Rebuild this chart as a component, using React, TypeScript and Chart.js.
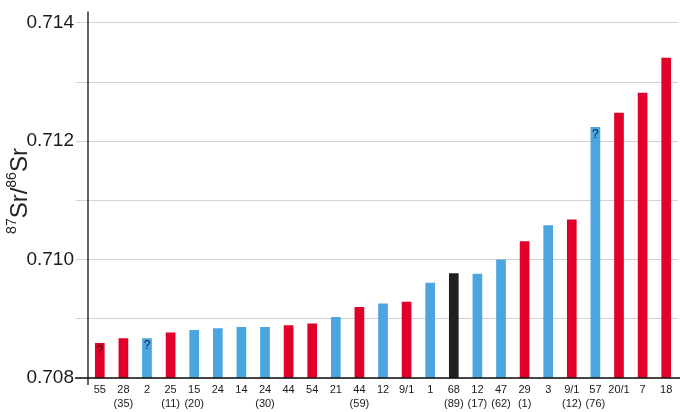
import React, { useEffect, useRef } from "react";
import { Chart, registerables } from "chart.js";

Chart.register(...registerables);

const sampleIds = ["55", "28", "2", "25", "15", "24", "14", "24", "44", "54", "21", "44", "12", "9/1", "1", "68", "12", "47", "29", "3", "9/1", "57", "20/1", "7", "18"];
const sampleSubIds = ["", "(35)", "", "(11)", "(20)", "", "", "(30)", "", "", "", "(59)", "", "", "", "(89)", "(17)", "(62)", "(1)", "", "(12)", "(76)", "", "", ""];
const srRatios = [0.70859, 0.70867, 0.70867, 0.70877, 0.70881, 0.70884, 0.70886, 0.70886, 0.70889, 0.70892, 0.70903, 0.7092, 0.70926, 0.70929, 0.70961, 0.70977, 0.70976, 0.71, 0.71031, 0.71058, 0.71068, 0.71224, 0.71248, 0.71282, 0.71341];
const groups = ["r", "r", "b", "r", "b", "b", "b", "b", "r", "r", "b", "r", "b", "r", "b", "k", "b", "b", "r", "b", "r", "b", "r", "r", "r"];
const uncertain = [0, 2, 21];
const yTicks = [0.708, 0.709, 0.71, 0.711, 0.712, 0.713, 0.714];
const yLabelled = [0.708, 0.71, 0.712, 0.714];

const groupColors: Record<string, string> = { r: "#E2002A", b: "#4BA5DE", k: "#231F20" };
const FONT = "'Liberation Sans', Arial, sans-serif";

const overlay = {
  id: "overlay",
  afterDraw(chart: any) {
    const ctx = chart.ctx;
    const { left, top, bottom } = chart.chartArea;
    ctx.save();
    // axis lines
    ctx.strokeStyle = "#111";
    ctx.lineWidth = 1.3;
    ctx.beginPath();
    ctx.moveTo(left, top - 2);
    ctx.lineTo(left, bottom + 7);
    ctx.moveTo(75, bottom);
    ctx.lineTo(680, bottom);
    ctx.stroke();

    // question marks
    const meta = chart.getDatasetMeta(0);
    ctx.font = `12px ${FONT}`;
    ctx.textAlign = "center";
    ctx.textBaseline = "top";
    uncertain.forEach((i) => {
      const bar = meta.data[i];
      ctx.fillStyle = groups[i] === "r" ? "#301018" : "#14203c";
      ctx.fillText("?", bar.x, bar.y + 1.5);
    });

    // y title with superscripts
    const parts: [string, number, number][] = [
      ["87", 14, -11],
      ["Sr/", 24, 0],
      ["86", 14, -11],
      ["Sr", 24, 0],
    ];
    let total = 0;
    parts.forEach(([t, s]) => {
      ctx.font = `${s}px ${FONT}`;
      total += ctx.measureText(t).width;
    });
    ctx.translate(27, 191);
    ctx.rotate(-Math.PI / 2);
    ctx.fillStyle = "#222";
    ctx.textAlign = "left";
    ctx.textBaseline = "alphabetic";
    let x = -total / 2;
    parts.forEach(([t, s, dy]) => {
      ctx.font = `${s}px ${FONT}`;
      ctx.fillText(t, x, dy);
      x += ctx.measureText(t).width;
    });
    ctx.restore();
  },
};

export default function App() {
  const ref = useRef<HTMLCanvasElement>(null);
  useEffect(() => {
    if (!ref.current) return;
    const labels = sampleIds.map((id, i) => (sampleSubIds[i] ? [id, sampleSubIds[i]] : [id]));
    const chart = new Chart(ref.current, {
      type: "bar",
      data: {
        labels,
        datasets: [
          {
            data: srRatios,
            backgroundColor: groups.map((g) => groupColors[g]),
            borderWidth: 0,
            barPercentage: 0.41,
            categoryPercentage: 1,
          },
        ],
      },
      options: {
        animation: false,
        responsive: false,
        layout: { padding: { top: 5, right: 2, left: 0, bottom: 0 } },
        plugins: { legend: { display: false }, tooltip: { enabled: false } },
        scales: {
          x: {
            grid: { display: false, drawTicks: false },
            border: { display: false },
            ticks: {
              autoSkip: false,
              maxRotation: 0,
              padding: 5,
              color: "#1a1a1a",
              font: { size: 11, family: FONT, lineHeight: 1.3 },
            },
            afterFit: (s: any) => {
              s.height = 34;
            },
          },
          y: {
            min: 0.708,
            max: 0.71416,
            afterBuildTicks: (s: any) => {
              s.ticks = yTicks.map((v) => ({ value: v }));
            },
            grid: { color: "#d2d2d2", lineWidth: 1, tickLength: 12, drawTicks: true },
            border: { display: false },
            ticks: {
              padding: 2,
              color: "#1a1a1a",
              font: { size: 19, family: FONT },
              callback: (v: any) =>
                yLabelled.some((l) => Math.abs(l - Number(v)) < 1e-7) ? Number(v).toFixed(3) : "",
            },
            afterFit: (s: any) => {
              s.width = 88;
            },
          },
        },
      },
      plugins: [overlay],
    });
    return () => chart.destroy();
  }, []);
  return (
    <div style={{ position: "absolute", left: 0, top: 0, width: 680, height: 412, background: "#fff" }}>
      <canvas ref={ref} width={680} height={412} />
    </div>
  );
}
